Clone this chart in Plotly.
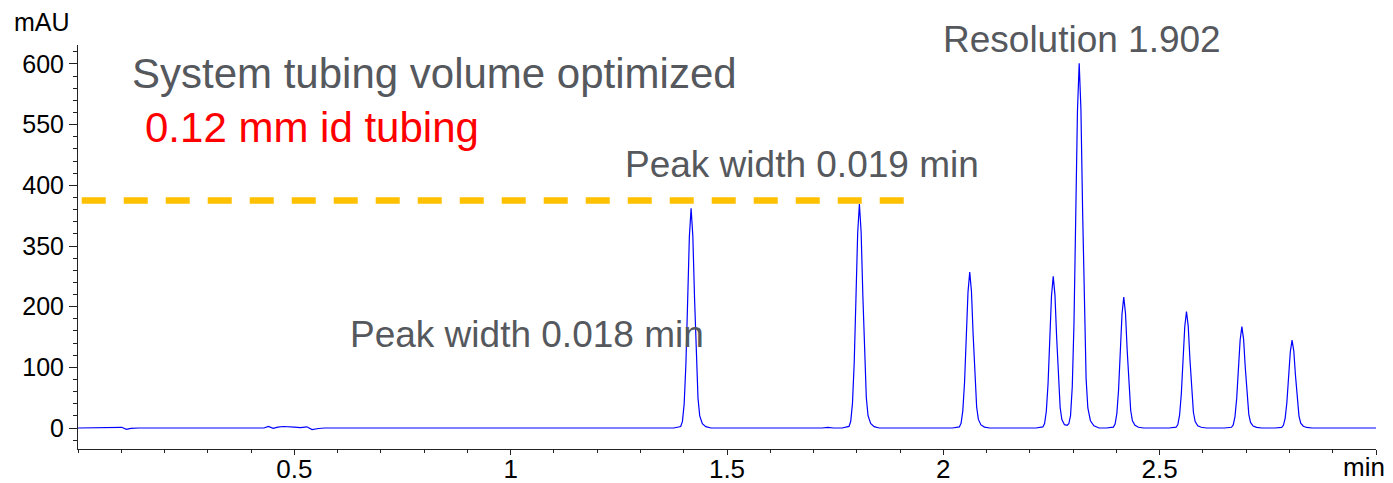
import plotly.graph_objects as go

# ---- data ----
time_min = [
    0.000, 0.095, 0.101, 0.112, 0.122, 0.140, 0.430, 0.440, 0.451, 0.462, 0.475, 0.500, 0.514, 0.529, 0.541, 0.556, 0.570, 1.000,
    1.377, 1.393, 1.397, 1.401, 1.405, 1.409, 1.413, 1.417, 1.421, 1.425, 1.429, 1.433, 1.437, 1.443, 1.451, 1.463,
    1.720, 1.733, 1.746,
    1.766, 1.782, 1.786, 1.790, 1.794, 1.798, 1.802, 1.806, 1.810, 1.814, 1.818, 1.822, 1.826, 1.832, 1.840, 1.852,
    2.021, 2.037, 2.041, 2.045, 2.049, 2.053, 2.057, 2.061, 2.065, 2.069, 2.073, 2.077, 2.081, 2.087, 2.095, 2.107,
    2.214, 2.230, 2.234, 2.238, 2.242, 2.246, 2.250, 2.254, 2.258, 2.262, 2.266, 2.270, 2.274, 2.280, 2.286,
    2.290, 2.294, 2.298, 2.302, 2.306, 2.310, 2.314, 2.318, 2.322, 2.326, 2.330, 2.334, 2.340, 2.348, 2.360,
    2.377, 2.393, 2.397, 2.401, 2.405, 2.409, 2.413, 2.417, 2.421, 2.425, 2.429, 2.433, 2.437, 2.443, 2.451, 2.463,
    2.522, 2.538, 2.542, 2.546, 2.550, 2.554, 2.558, 2.562, 2.566, 2.570, 2.574, 2.578, 2.582, 2.588, 2.596, 2.608,
    2.650, 2.666, 2.670, 2.674, 2.678, 2.682, 2.686, 2.690, 2.694, 2.698, 2.702, 2.706, 2.710, 2.716, 2.724, 2.736,
    2.766, 2.782, 2.786, 2.790, 2.794, 2.798, 2.802, 2.806, 2.810, 2.814, 2.818, 2.822, 2.826, 2.832, 2.840, 2.852,
    3.000,
]
signal_mau = [
    0, 0, 1.2, -2.3, -0.6, 0, 0, 2.5, -0.5, 1.5, 2.5, 1.5, 0.5, 2.0, -2.5, -0.8, 0, 0,
    0, 2.5, 10.9, 39.8, 105, 208, 315, 362, 317, 214, 112, 48.9, 19.9, 7.2, 2.2, 0,
    0, 1.2, 0,
    0, 2.6, 11.1, 40.6, 107, 212, 321, 369, 323, 218, 114, 49.8, 20.3, 7.4, 2.2, 0,
    0, 1.8, 7.7, 28.3, 74.5, 148, 224, 257, 225, 152, 79.7, 34.7, 14.1, 5.1, 1.5, 0,
    0, 1.8, 7.5, 27.5, 72.5, 144, 218, 250, 219, 148, 77.5, 33.8, 13.8, 5.5, 4.5,
    7, 20.5, 68, 174, 346, 523, 601, 526, 355, 186, 81, 33, 12, 3.6, 0,
    0, 1.5, 6.5, 23.8, 62.6, 124, 188, 216, 189, 127, 67, 29.2, 11.9, 4.3, 1.3, 0,
    0, 1.3, 5.8, 21.1, 55.7, 110, 167, 192, 168, 113, 59.5, 25.9, 10.6, 3.8, 1.2, 0,
    0, 1.2, 5, 18.4, 48.4, 96, 145, 167, 146, 98.5, 51.8, 22.5, 9.2, 3.3, 1, 0,
    0, 1, 4.4, 16, 42, 83.4, 126, 145, 127, 85.6, 45, 19.6, 8, 2.9, 0.9, 0,
    0,
]

reference_level_x = [0.0086, 1.911]
reference_level_y = [375, 375]

y_tick_values = [0, 100, 200, 300, 400, 500, 600]
y_tick_labels = ["0", "100", "200", "350", "400", "550", "600"]
x_tick_values = [0.5, 1.0, 1.5, 2.0, 2.5, 3.0]
x_tick_labels = ["0.5", "1", "1.5", "2", "2.5", ""]

FONT = "Liberation Sans, Arial, sans-serif"
GRAY = "#55585d"

fig = go.Figure()
fig.add_trace(go.Scatter(
    x=time_min, y=signal_mau, mode="lines",
    line=dict(color="#0000ff", width=1.2), hoverinfo="skip",
))
fig.add_trace(go.Scatter(
    x=reference_level_x, y=reference_level_y, mode="lines",
    line=dict(color="#ffc000", width=6.5, dash="24px,18px"), hoverinfo="skip",
))

annots = [
    dict(text="System tubing volume optimized", x=0.120, y=585, color=GRAY, size=42),
    dict(text="0.12 mm id tubing", x=0.150, y=496, color="#ff0000", size=42),
    dict(text="Peak width 0.019 min", x=1.259, y=435, color=GRAY, size=37),
    dict(text="Peak width 0.018 min", x=0.625, y=154, color=GRAY, size=37),
]
for a in annots:
    fig.add_annotation(
        x=a["x"], y=a["y"], xref="x", yref="y", text=a["text"], showarrow=False,
        xanchor="left", yanchor="middle",
        font=dict(family=FONT, size=a["size"], color=a["color"]),
    )
fig.add_annotation(x=1.995, y=1.0124, xref="x", yref="paper", text="Resolution 1.902",
                   showarrow=False, xanchor="left", yanchor="middle",
                   font=dict(family=FONT, size=37, color=GRAY))

fig.add_annotation(x=0, y=1.057, xref="paper", yref="paper", text="mAU", showarrow=False,
                   xanchor="right", yanchor="middle", xshift=-6,
                   font=dict(family=FONT, size=25, color="#000000"))
fig.add_annotation(x=3.0, y=0, xref="x", yref="paper", text="min", showarrow=False,
                   xanchor="right", yanchor="top", xshift=10, yshift=-2, borderpad=0,
                   font=dict(family=FONT, size=26, color="#000000"))

fig.update_layout(
    width=1393, height=483,
    margin=dict(l=78, r=17, t=45, b=34, pad=0, autoexpand=False),
    paper_bgcolor="white", plot_bgcolor="white",
    showlegend=False,
    font=dict(family=FONT, color="#000000"),
)
fig.update_xaxes(
    range=[0, 3.0], showgrid=False, zeroline=False, automargin=False,
    showline=True, linecolor="#222222", linewidth=1,
    tickmode="array", tickvals=x_tick_values, ticktext=x_tick_labels,
    ticks="outside", ticklen=5, tickwidth=1, tickcolor="#222222",
    ticklabelstandoff=-8,
    tickfont=dict(family=FONT, size=26, color="#000000"),
    minor=dict(dtick=0.1, tick0=0, ticks="outside", ticklen=3, tickcolor="#222222", showgrid=False),
)
fig.update_yaxes(
    range=[-34.6, 631.3], showgrid=False, zeroline=False, automargin=False,
    showline=True, linecolor="#222222", linewidth=1,
    tickmode="array", tickvals=y_tick_values, ticktext=y_tick_labels,
    ticks="outside", ticklen=8, tickwidth=1, tickcolor="#222222",
    tickfont=dict(family=FONT, size=25, color="#000000"),
    minor=dict(dtick=20, tick0=0, ticks="outside", ticklen=4, tickcolor="#222222", showgrid=False),
)

fig.write_html("out.html")
